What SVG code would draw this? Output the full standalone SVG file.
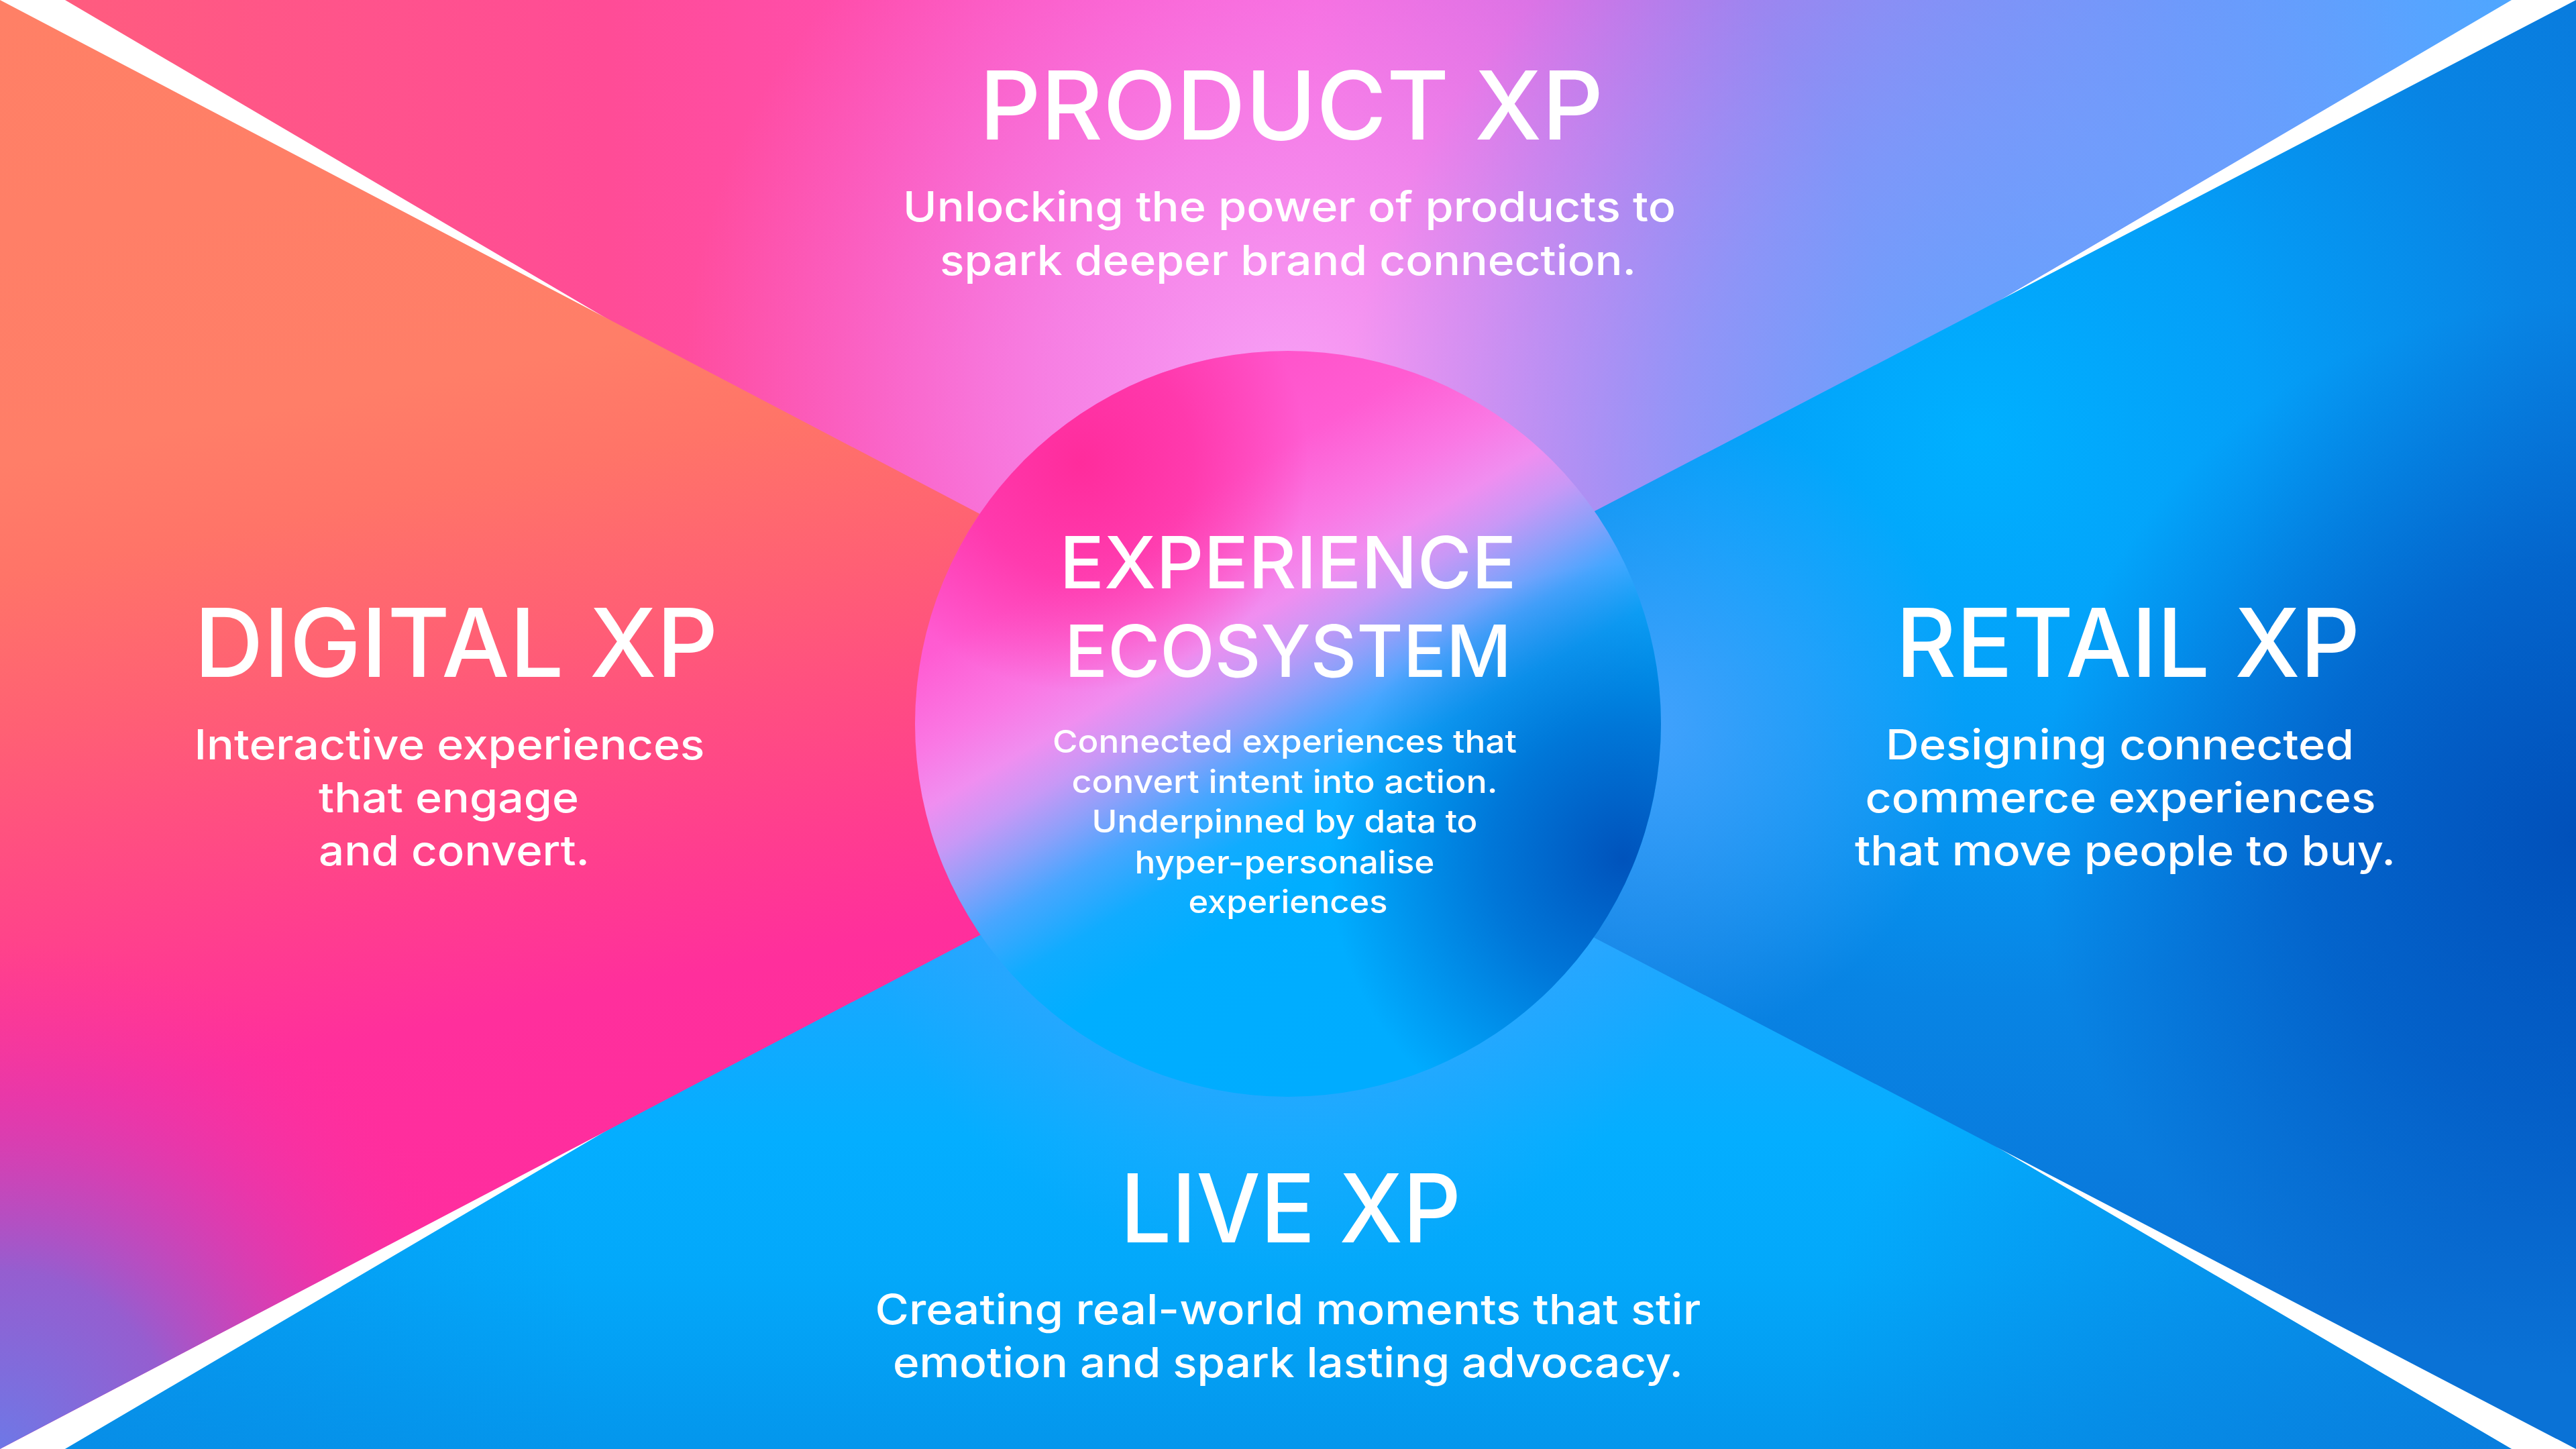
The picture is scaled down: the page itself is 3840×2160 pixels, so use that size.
<svg xmlns="http://www.w3.org/2000/svg" xmlns:xlink="http://www.w3.org/1999/xlink" width="3840" height="2160" viewBox="0 0 3840 2160">
  <style>
    text { font-family: Inter, "Liberation Sans", sans-serif; fill: #FFFFFF; text-anchor: middle; }
    .title { font-size: 141px; font-weight: 500; }
    .body { font-size: 62px; font-weight: 500; }
    .ctitle { font-size: 107px; font-weight: 500; }
    .cbody { font-size: 47px; font-weight: 500; }
  </style>
  <defs>
    <polygon id="pT" points="97,0 3744,0 2982,447 1920,1079 898,471"/>
    <polygon id="pB" points="97,2160 898,1689 1920,1081 2982,1713 3744,2160"/>
    <polygon id="pL" points="0,0 898,471 1920,1007 1920,1153 898,1689 0,2160"/>
    <polygon id="pR" points="3840,0 2982,447 1920,1000 1920,1160 2982,1713 3840,2160"/>
    <circle id="pC" cx="1920" cy="1079" r="556"/>

    <linearGradient id="gL" gradientUnits="userSpaceOnUse" x1="0" y1="0" x2="404" y2="2019">
      <stop offset="0" stop-color="#FF8066"/>
      <stop offset="0.33" stop-color="#FF7E68"/>
      <stop offset="0.41" stop-color="#FF7468"/>
      <stop offset="0.52" stop-color="#FF6074"/>
      <stop offset="0.6" stop-color="#FF5080"/>
      <stop offset="0.71" stop-color="#FF3C90"/>
      <stop offset="0.79" stop-color="#FF2F9C"/>
      <stop offset="1" stop-color="#FF2CA0"/>
    </linearGradient>
    <radialGradient id="gL2" gradientUnits="userSpaceOnUse" cx="0" cy="2160" r="760">
      <stop offset="0" stop-color="#6E78E6" stop-opacity="1"/>
      <stop offset="0.35" stop-color="#8C62D4" stop-opacity="0.92"/>
      <stop offset="0.7" stop-color="#D040B8" stop-opacity="0.45"/>
      <stop offset="1" stop-color="#FF2EA0" stop-opacity="0"/>
    </radialGradient>

    <linearGradient id="gT" gradientUnits="userSpaceOnUse" x1="0" y1="0" x2="3840" y2="0">
      <stop offset="0" stop-color="#FF5E7C"/>
      <stop offset="0.234" stop-color="#FF4C96"/>
      <stop offset="0.34" stop-color="#FF4EAE"/>
      <stop offset="0.44" stop-color="#FF55C8"/>
      <stop offset="0.51" stop-color="#FA60D8"/>
      <stop offset="0.6" stop-color="#D06CE2"/>
      <stop offset="0.73" stop-color="#9A84F0"/>
      <stop offset="0.85" stop-color="#6E96FA"/>
      <stop offset="0.94" stop-color="#55A4FF"/>
      <stop offset="1" stop-color="#4AA8FF"/>
    </linearGradient>
    <radialGradient id="gT2" gradientUnits="userSpaceOnUse" cx="1920" cy="580" r="900">
      <stop offset="0" stop-color="#F7A4F7" stop-opacity="0.95"/>
      <stop offset="0.4" stop-color="#F392F2" stop-opacity="0.7"/>
      <stop offset="1" stop-color="#F080F0" stop-opacity="0"/>
    </radialGradient>
    <radialGradient id="gT3" gradientUnits="userSpaceOnUse" cx="3000" cy="700" r="1000">
      <stop offset="0" stop-color="#5AA8FF" stop-opacity="0.95"/>
      <stop offset="0.5" stop-color="#6AA4FF" stop-opacity="0.6"/>
      <stop offset="1" stop-color="#6AA4FF" stop-opacity="0"/>
    </radialGradient>

    <radialGradient id="gR" gradientUnits="userSpaceOnUse" cx="2950" cy="650" r="1400">
      <stop offset="0" stop-color="#00B0FF"/>
      <stop offset="0.3" stop-color="#049FF8"/>
      <stop offset="0.6" stop-color="#0884E4"/>
      <stop offset="1" stop-color="#0A72D6"/>
    </radialGradient>
    <radialGradient id="gR2" gradientUnits="userSpaceOnUse" cx="3840" cy="1250" r="800">
      <stop offset="0" stop-color="#004EB8" stop-opacity="0.95"/>
      <stop offset="0.5" stop-color="#0050BC" stop-opacity="0.6"/>
      <stop offset="1" stop-color="#0050BC" stop-opacity="0"/>
    </radialGradient>
    <radialGradient id="gR3" gradientUnits="userSpaceOnUse" cx="2450" cy="1080" r="480">
      <stop offset="0" stop-color="#4AA4FF" stop-opacity="0.9"/>
      <stop offset="1" stop-color="#4AA4FF" stop-opacity="0"/>
    </radialGradient>

    <linearGradient id="gB" gradientUnits="userSpaceOnUse" x1="0" y1="1080" x2="0" y2="2160">
      <stop offset="0" stop-color="#40A4FF"/>
      <stop offset="0.33" stop-color="#1AA8FF"/>
      <stop offset="0.57" stop-color="#04AEFF"/>
      <stop offset="0.76" stop-color="#03A8FA"/>
      <stop offset="1" stop-color="#0496EC"/>
    </linearGradient>
    <radialGradient id="gB2" gradientUnits="userSpaceOnUse" cx="1920" cy="1250" r="650">
      <stop offset="0" stop-color="#4CA2FF" stop-opacity="0.85"/>
      <stop offset="0.6" stop-color="#4CA2FF" stop-opacity="0.35"/>
      <stop offset="1" stop-color="#4CA2FF" stop-opacity="0"/>
    </radialGradient>
    <radialGradient id="gB3" gradientUnits="userSpaceOnUse" cx="3700" cy="2160" r="1000">
      <stop offset="0" stop-color="#0A78DA" stop-opacity="0.8"/>
      <stop offset="1" stop-color="#0A78DA" stop-opacity="0"/>
    </radialGradient>
    <radialGradient id="gB4" gradientUnits="userSpaceOnUse" cx="0" cy="2160" r="900">
      <stop offset="0" stop-color="#0A86E2" stop-opacity="0.6"/>
      <stop offset="1" stop-color="#0A86E2" stop-opacity="0"/>
    </radialGradient>

    <linearGradient id="gC" gradientUnits="userSpaceOnUse" x1="1620" y1="560" x2="2170" y2="1500">
      <stop offset="0" stop-color="#FF4CC4"/>
      <stop offset="0.22" stop-color="#FF5CD2"/>
      <stop offset="0.33" stop-color="#FA78E4"/>
      <stop offset="0.4" stop-color="#F08EF0"/>
      <stop offset="0.46" stop-color="#C898F6"/>
      <stop offset="0.52" stop-color="#8CA0FA"/>
      <stop offset="0.58" stop-color="#48A6FF"/>
      <stop offset="0.66" stop-color="#10ACFF"/>
      <stop offset="0.75" stop-color="#00AEFF"/>
      <stop offset="1" stop-color="#00ACFF"/>
    </linearGradient>
    <radialGradient id="gC2" gradientUnits="userSpaceOnUse" cx="1610" cy="690" r="340">
      <stop offset="0" stop-color="#FF2C9C" stop-opacity="1"/>
      <stop offset="0.5" stop-color="#FF2EA0" stop-opacity="0.7"/>
      <stop offset="1" stop-color="#FF2EA0" stop-opacity="0"/>
    </radialGradient>
    <radialGradient id="gC3" gradientUnits="userSpaceOnUse" cx="2420" cy="1280" r="440">
      <stop offset="0" stop-color="#004EB8" stop-opacity="0.95"/>
      <stop offset="0.45" stop-color="#0052BE" stop-opacity="0.6"/>
      <stop offset="1" stop-color="#0052BE" stop-opacity="0"/>
    </radialGradient>
  </defs>

  <rect width="3840" height="2160" fill="#FFFFFF"/>

  <g id="node-product">
    <use xlink:href="#pT" fill="url(#gT)"/>
    <use xlink:href="#pT" fill="url(#gT2)"/>
    <use xlink:href="#pT" fill="url(#gT3)"/>
    <text class="title" x="1925" y="208" textLength="930" lengthAdjust="spacingAndGlyphs">PRODUCT XP</text>
    <text class="body" x="1922" y="330" textLength="1152" lengthAdjust="spacingAndGlyphs">Unlocking the power of products to</text>
    <text class="body" x="1920" y="410" textLength="1038" lengthAdjust="spacingAndGlyphs">spark deeper brand connection.</text>
  </g>

  <g id="node-live">
    <use xlink:href="#pB" fill="url(#gB)"/>
    <use xlink:href="#pB" fill="url(#gB2)"/>
    <use xlink:href="#pB" fill="url(#gB3)"/>
    <use xlink:href="#pB" fill="url(#gB4)"/>
    <text class="title" x="1924" y="1852" textLength="508" lengthAdjust="spacingAndGlyphs">LIVE XP</text>
    <text class="body" x="1920" y="1974" textLength="1231" lengthAdjust="spacingAndGlyphs">Creating real-world moments that stir</text>
    <text class="body" x="1920" y="2053" textLength="1178" lengthAdjust="spacingAndGlyphs">emotion and spark lasting advocacy.</text>
  </g>

  <g id="node-digital">
    <use xlink:href="#pL" fill="url(#gL)"/>
    <use xlink:href="#pL" fill="url(#gL2)"/>
    <text class="title" x="680" y="1009" textLength="781" lengthAdjust="spacingAndGlyphs">DIGITAL XP</text>
    <text class="body" x="670" y="1132" textLength="761" lengthAdjust="spacingAndGlyphs">Interactive experiences</text>
    <text class="body" x="669" y="1211" textLength="388" lengthAdjust="spacingAndGlyphs">that engage</text>
    <text class="body" x="677" y="1290" textLength="404" lengthAdjust="spacingAndGlyphs">and convert.</text>
  </g>

  <g id="node-retail">
    <use xlink:href="#pR" fill="url(#gR)"/>
    <use xlink:href="#pR" fill="url(#gR2)"/>
    <use xlink:href="#pR" fill="url(#gR3)"/>
    <text class="title" x="3172" y="1009" textLength="692" lengthAdjust="spacingAndGlyphs">RETAIL XP</text>
    <text class="body" x="3160" y="1132" textLength="698" lengthAdjust="spacingAndGlyphs">Designing connected</text>
    <text class="body" x="3161" y="1211" textLength="761" lengthAdjust="spacingAndGlyphs">commerce experiences</text>
    <text class="body" x="3168" y="1290" textLength="806" lengthAdjust="spacingAndGlyphs">that move people to buy.</text>
  </g>

  <g id="node-ecosystem">
    <use xlink:href="#pC" fill="url(#gC)"/>
    <use xlink:href="#pC" fill="url(#gC2)"/>
    <use xlink:href="#pC" fill="url(#gC3)"/>
    <text class="ctitle" x="1920" y="877" textLength="681" lengthAdjust="spacingAndGlyphs">EXPERIENCE</text>
    <text class="ctitle" x="1920" y="1009" textLength="666" lengthAdjust="spacingAndGlyphs">ECOSYSTEM</text>
    <text class="cbody" x="1915" y="1122" textLength="692" lengthAdjust="spacingAndGlyphs">Connected experiences that</text>
    <text class="cbody" x="1915" y="1182" textLength="635" lengthAdjust="spacingAndGlyphs">convert intent into action.</text>
    <text class="cbody" x="1915" y="1241" textLength="575" lengthAdjust="spacingAndGlyphs">Underpinned by data to</text>
    <text class="cbody" x="1915" y="1302" textLength="447" lengthAdjust="spacingAndGlyphs">hyper-personalise</text>
    <text class="cbody" x="1920" y="1361" textLength="297" lengthAdjust="spacingAndGlyphs">experiences</text>
  </g>
</svg>
